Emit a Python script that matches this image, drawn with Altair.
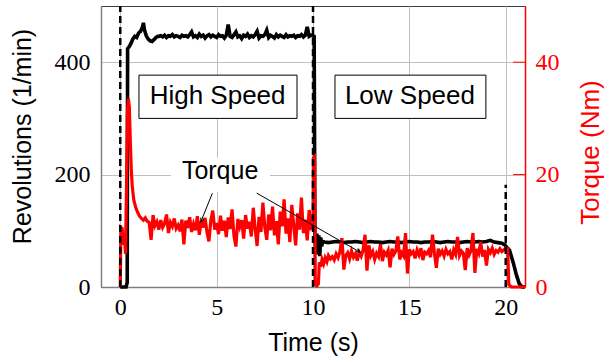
import math
import altair as alt
import pandas as pd

# ---------------- data ----------------
# Revolutions (1/min)
rev_start_t = [0.0, 0.3, 0.36, 0.38, 0.45, 0.55, 0.65, 0.75, 0.85, 0.95, 1.05,
               1.15, 1.2, 1.25, 1.35, 1.45, 1.55, 1.65, 1.75, 1.85, 1.95]
rev_start_v = [0, 0, 8, 424, 427, 433, 441, 446, 444, 452, 455,
               462, 470, 458, 447, 441, 438, 437, 440, 444, 446]
# sampled every 0.1 s from 2.0 s to 9.9 s
rev_high = [446, 447, 445, 448, 444, 447, 446, 449, 445, 447,
            446, 444, 448, 446, 447, 445, 449, 454, 445, 447,
            444, 450, 446, 448, 443, 447, 449, 445, 448, 446,
            444, 449, 446, 447, 443, 448, 467, 446, 444, 449,
            454, 445, 447, 442, 448, 446, 450, 444, 447, 445,
            449, 455, 443, 447, 446, 449, 457, 444, 448, 446,
            443, 449, 445, 448, 446, 444, 449, 445, 447, 446,
            448, 444, 447, 446, 449, 445, 448, 463, 446, 448]
rev_mid_t = [10.0, 10.06, 10.1, 10.15, 10.2, 10.25, 10.3, 10.35, 10.4, 10.45, 10.5]
rev_mid_v = [447, 446, 84, 70, 95, 58, 92, 55, 88, 72, 81]
# sampled every 0.2 s from 10.6 s to 19.8 s
rev_low = [80, 79, 80, 81, 80, 79, 80, 80, 81, 80,
           79, 80, 81, 80, 80, 79, 80, 81, 80, 80,
           79, 80, 81, 80, 80, 79, 80, 80, 81, 80,
           79, 80, 81, 80, 80, 79, 80, 81, 80, 80,
           81, 80, 81, 83, 80, 79, 78]
rev_end_t = [19.95, 20.05, 20.2, 20.4, 20.55, 20.7, 20.85, 21.0]
rev_end_v = [75, 71, 65, 42, 22, 6, 0, 0]

# Torque (Nm)
tq_start_t = [0.0, 0.03, 0.1, 0.16, 0.22, 0.27, 0.32, 0.37, 0.42, 0.47, 0.52,
              0.57, 0.62, 0.7, 0.8, 0.9, 1.0, 1.1, 1.2, 1.3, 1.4]
tq_start_v = [0.0, 10.6, 10.4, 7.5, 9.0, 5.9, 17.0, 31.0, 33.5, 32.0, 26.0,
              21.0, 18.0, 15.5, 14.2, 13.3, 12.6, 12.2, 11.9, 12.3, 11.7]
# sampled every 0.1 s from 1.5 s to 9.9 s
tq_high = [11.5, 8.4, 12.8, 10.9, 11.6,
           10.2, 11.9, 10.6, 11.3, 12.9, 9.6, 11.5, 10.8, 12.2, 10.4,
           11.0, 9.9, 12.0, 7.6, 11.8, 10.5, 12.4, 9.8, 11.2, 10.1,
           12.6, 9.3, 11.7, 10.6, 12.3, 9.7, 8.1, 11.9, 13.6, 10.2,
           11.4, 9.4, 12.7, 10.0, 11.8, 8.9, 12.4, 10.3, 13.8, 9.1,
           7.2, 12.1, 10.7, 11.9, 8.6, 12.8, 10.4, 11.6, 9.0, 14.1,
           10.3, 7.3, 12.5, 9.8, 15.0, 10.6, 8.4, 12.9, 10.1, 14.3,
           9.2, 11.7, 7.6, 13.4, 10.8, 15.6, 9.5, 12.2, 8.0, 14.6,
           10.9, 7.4, 13.1, 10.2, 15.9, 9.6, 12.0, 8.3, 13.7, 10.5]
tq_mid_t = [10.0, 10.02, 10.08, 10.12, 10.2, 10.28, 10.33, 10.4, 10.47,
            10.55, 10.63, 10.72, 10.8, 10.9]
tq_mid_v = [10.8, 23.0, 23.2, 0.4, 0.2, 0.6, 4.4, 3.6, 4.9,
            4.1, 5.2, 4.5, 5.6, 5.0]
# sampled every 0.1 s from 11.0 s to 19.9 s
tq_low = [5.4, 4.8, 5.9, 5.2, 6.3, 8.7, 3.1, 5.6, 6.1, 5.0,
          6.4, 5.3, 5.9, 4.7, 6.2, 5.5, 6.6, 9.3, 2.9, 7.4,
          5.6, 6.3, 4.9, 6.0, 5.4, 7.6, 4.6, 6.2, 5.7, 6.5,
          3.5, 6.8, 5.8, 6.4, 9.0, 4.9, 6.1, 5.5, 9.6, 2.4,
          6.7, 5.9, 6.3, 5.1, 6.6, 5.7, 6.9, 4.8, 6.2, 5.9,
          6.5, 5.3, 9.3, 6.0, 3.4, 6.8, 5.8, 6.4, 5.5, 6.7,
          5.9, 6.3, 4.9, 6.6, 5.8, 8.9, 5.6, 6.4, 6.0, 3.0,
          6.9, 5.7, 6.5, 9.6, 2.5, 6.8, 6.0, 8.0, 5.4, 6.6,
          3.8, 6.7, 6.1, 6.9, 5.8, 6.5, 6.2, 6.8, 6.3, 6.6]
tq_end_t = [20.0, 20.1, 20.16, 20.3, 21.0]
tq_end_v = [6.9, 6.8, 0.4, 0.0, 0.0]

# phase markers (dashed) and annotations
marker_t = [0, 10, 20]
marker_top_tq = [50, 50, 18.2]
phase_labels = ["High Speed", "Low Speed"]
phase_t = [5.05, 15.03]
phase_box_t = [0.97, 11.14]
phase_box_t2 = [9.17, 18.97]
torque_label_t, torque_label_tq = 5.18, 19.3
arrow_t = [4.78, 7.08]
arrow_tq = [16.7, 16.7]
arrow_t2 = [4.18, 12.44]
arrow_tq2 = [11.6, 6.2]

x_ticks = [0, 5, 10, 15, 20]
rev_ticks = [0, 200, 400]
tq_ticks = [0, 20, 40]

# ---------------- layout / style ----------------
W, H = 424, 281
T_DOMAIN = [-1, 21]
REV_DOMAIN = [0, 500]
TQ_DOMAIN = [0, 50]
RED = "#ff0000"
SANS = "Liberation Sans, Arial, sans-serif"
SERIF = "Liberation Serif, Times New Roman, DejaVu Serif, serif"
GRID = "#c0c0c0"
LABEL_SIZE = 24


def sampled(start, step, values):
    return [round(start + step * i, 3) for i in range(len(values))]


rev_df = pd.DataFrame({
    "t": rev_start_t + sampled(2.0, 0.1, rev_high) + rev_mid_t
         + sampled(10.6, 0.2, rev_low) + rev_end_t,
    "rev": rev_start_v + rev_high + rev_mid_v + rev_low + rev_end_v,
})
tq_df = pd.DataFrame({
    "t": tq_start_t + sampled(1.5, 0.1, tq_high) + tq_mid_t
         + sampled(11.0, 0.1, tq_low) + tq_end_t,
    "tq": tq_start_v + tq_high + tq_mid_v + tq_low + tq_end_v,
})

x_axis = alt.Axis(
    values=x_ticks, title="Time (s)", grid=True, gridColor=GRID, gridWidth=1,
    ticks=False, tickSize=0, labelFont=SERIF, labelFontSize=LABEL_SIZE,
    labelPadding=8, labelColor="black", domainColor="#808080", domainWidth=1.5,
    titleFont=SANS, titleFontSize=25, titleFontWeight="normal", titleColor="black",
    titleY=63, titleBaseline="alphabetic",
)
x_scale = alt.Scale(domain=T_DOMAIN, nice=False, zero=False)


def x_enc():
    return alt.X("t:Q", scale=x_scale, axis=x_axis)


rev_axis = alt.Axis(
    orient="left", values=rev_ticks, title="Revolutions (1/min)", grid=True,
    gridColor=GRID, gridWidth=1, ticks=False, tickSize=0, labelFont=SERIF,
    labelFontSize=LABEL_SIZE, labelPadding=11, labelColor="black",
    domainColor="#808080", domainWidth=1.5, titleFont=SANS, titleFontSize=25,
    titleFontWeight="normal", titleColor="black", titleAngle=270, titleX=-71,
    titleY=130, titleAlign="center", titleBaseline="alphabetic",
)
rev_scale = alt.Scale(domain=REV_DOMAIN, nice=False)

tq_axis = alt.Axis(
    orient="right", values=tq_ticks, title="Torque (Nm)", grid=False,
    ticks=False, tickSize=0, labelFont=SERIF, labelFontSize=LABEL_SIZE,
    labelPadding=10, labelColor=RED, domainColor=RED, domainWidth=1.5,
    titleFont=SANS, titleFontSize=26, titleFontWeight="normal", titleColor=RED,
    titleAngle=270, titleX=73, titleY=146, titleAlign="center",
    titleBaseline="alphabetic",
)
tq_scale = alt.Scale(domain=TQ_DOMAIN, nice=False)


def y_rev(field="rev"):
    return alt.Y(f"{field}:Q", scale=rev_scale, axis=rev_axis)


def y_tq(field="tq"):
    return alt.Y(f"{field}:Q", scale=tq_scale, axis=tq_axis)


# ---------------- revolution layer ----------------
rev_line = alt.Chart(rev_df).mark_line(
    color="black", strokeWidth=3.6, strokeJoin="miter"
).encode(x=x_enc(), y=y_rev())

phase_df = pd.DataFrame({
    "label": phase_labels, "t": phase_t, "t0": phase_box_t, "t1": phase_box_t2,
    "rev": [326] * 2, "rev0": [300] * 2, "rev1": [377] * 2,
})
phase_box = alt.Chart(phase_df).mark_rect(
    fill="white", stroke="black", strokeWidth=1
).encode(
    x=alt.X("t0:Q", scale=x_scale, axis=x_axis), x2="t1:Q",
    y=alt.Y("rev0:Q", scale=rev_scale, axis=rev_axis), y2="rev1:Q",
)
phase_text = alt.Chart(phase_df).mark_text(
    font=SANS, fontSize=26, color="black", baseline="alphabetic", align="center"
).encode(x=x_enc(), y=y_rev(), text="label:N")

rev_layer = alt.layer(rev_line, phase_box, phase_text)

# ---------------- torque layer ----------------
tq_line = alt.Chart(tq_df).mark_line(
    color=RED, strokeWidth=3.2, strokeJoin="miter"
).encode(x=x_enc(), y=y_tq())

marker_df = pd.DataFrame({"t": marker_t, "tq": [0] * 3, "tq2": marker_top_tq})
markers = alt.Chart(marker_df).mark_rule(
    color="black", strokeWidth=2.5, strokeDash=[7, 4]
).encode(x=x_enc(), y=y_tq(), y2="tq2:Q")

label_df = pd.DataFrame({
    "text": ["Torque"], "t": [torque_label_t], "tq": [torque_label_tq],
    "t0": [2.63], "t1": [7.77], "tq0": [16.9], "tq1": [23.0],
})
label_bg = alt.Chart(label_df).mark_rect(fill="white").encode(
    x=alt.X("t0:Q", scale=x_scale, axis=x_axis), x2="t1:Q",
    y=alt.Y("tq0:Q", scale=tq_scale, axis=tq_axis), y2="tq1:Q",
)
label_text = alt.Chart(label_df).mark_text(
    font=SANS, fontSize=25, color="black", baseline="alphabetic", align="center"
).encode(x=x_enc(), y=y_tq(), text="text:N")

px_t = W / (T_DOMAIN[1] - T_DOMAIN[0])
px_tq = H / (TQ_DOMAIN[1] - TQ_DOMAIN[0])
head_angle = []
for a, b, c, d in zip(arrow_t, arrow_tq, arrow_t2, arrow_tq2):
    dx = (c - a) * px_t
    dy = -(d - b) * px_tq
    head_angle.append(math.degrees(math.atan2(dx, -dy)) % 360)

arrow_df = pd.DataFrame({
    "t": arrow_t, "tq": arrow_tq, "t2": arrow_t2, "tq2": arrow_tq2,
    "angle": head_angle,
})
arrow_lines = alt.Chart(arrow_df).mark_rule(color="black", strokeWidth=1).encode(
    x=x_enc(), y=y_tq(), x2="t2:Q", y2="tq2:Q"
)
head_df = pd.DataFrame({"t": arrow_t2, "tq": arrow_tq2, "angle": head_angle})
arrow_heads = alt.Chart(head_df).mark_point(
    shape="M -0.55 1.3 L 0 0 L 0.55 1.3", filled=False, stroke="black",
    strokeWidth=1, size=36, opacity=1,
).encode(
    x=x_enc(), y=y_tq(),
    angle=alt.Angle("angle:Q", scale=None),
)

tick_df = pd.DataFrame({"tq": tq_ticks[1:]})
tq_inner_ticks = alt.Chart(tick_df).mark_rule(color=RED, strokeWidth=1).encode(
    y=y_tq(), x=alt.value(W - 12), x2=alt.value(W)
)

tq_layer = alt.layer(
    tq_line, markers, label_bg, label_text, arrow_lines, arrow_heads,
    tq_inner_ticks,
)

chart = alt.layer(rev_layer, tq_layer).resolve_scale(y="independent").properties(
    width=W, height=H,
    autosize=alt.AutoSizeParams(type="none"),
    padding={"left": 101, "top": 6, "right": 80, "bottom": 76},
    background="white",
).configure_view(stroke="#404040", strokeWidth=1)

chart.save("out.html", embed_options={"renderer": "svg", "actions": False})
